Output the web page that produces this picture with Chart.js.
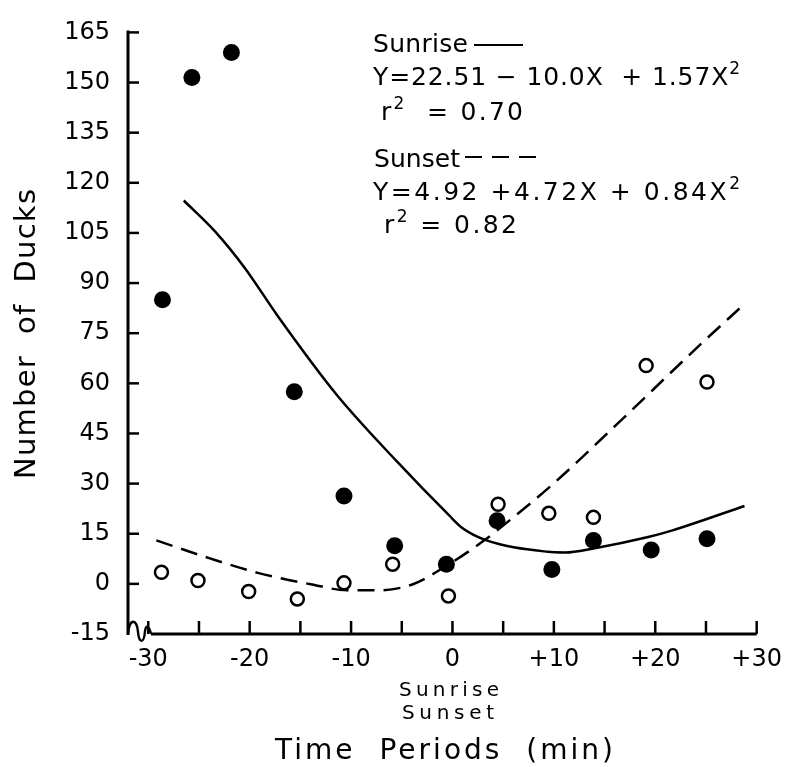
<!DOCTYPE html>
<html>
<head>
<meta charset="utf-8">
<script src="https://cdn.jsdelivr.net/npm/chart.js@4.4.1/dist/chart.umd.min.js"></script>
<style>
  body { margin: 0; background: #fff; }
  #wrap { width: 793px; height: 767px; position: relative; }
</style>
</head>
<body>
<div id="wrap"><canvas id="duckChart"></canvas></div>
<script>
// tick values
const xTickValues = [-30, -25, -20, -15, -10, -5, 0, 5, 10, 15, 20, 25, 30];
const yTickValues = [-15, 0, 15, 30, 45, 60, 75, 90, 105, 120, 135, 150, 165];

// observed counts, sunrise (filled) and sunset (open)
const sunriseTime  = [-28.6, -25.7, -21.8, -15.6, -10.7, -5.7, -0.6, 4.4, 9.8, 13.9, 19.6, 25.1];
const sunriseDucks = [85, 151.5, 159, 57.5, 26.3, 11.4, 5.9, 18.9, 4.3, 13, 10.1, 13.5];
const sunsetTime   = [-28.7, -25.1, -20.1, -15.3, -10.7, -5.9, -0.4, 4.5, 9.5, 13.9, 19.1, 25.1];
const sunsetDucks  = [3.5, 1, -2.3, -4.5, 0.3, 5.9, -3.6, 23.8, 21.1, 19.9, 65.3, 60.4];

// fitted curves
const sunriseFitTime = [-26.5, -23.4, -20.5, -17.2, -11.4, -5.6, -0.3, 0.9, 3.3, 9.4, 11.1, 13.9, 19.3, 21.7, 28.8];
const sunriseFitY    = [114.7, 105.4, 94.6, 80, 56.5, 37, 20.4, 16.9, 13.1, 9.6, 9.4, 10.6, 14, 16, 23.3];
const sunsetFitTime  = [-29.2, -24, -19.2, -14, -10.4, -7.2, -3.9, -0.7, 2.9, 6.2, 10, 16.2, 24.3, 28.7];
const sunsetFitY     = [13, 7.7, 3.3, -0.1, -1.9, -1.9, -0.1, 5.2, 12.5, 20.4, 30.1, 47.7, 71.2, 83.5];

const FONT = '"DejaVu Sans", sans-serif';
const pts = (xs, ys) => xs.map((x, i) => ({ x: x, y: ys[i] }));

// text stretched (letter spacing) so that it spans the given width
function drawFit(ctx, x, y, parts, size, width, centered) {
    const fontOf = p => (p.sup ? Math.round(size * 0.68) : size) + 'px ' + FONT;
    ctx.letterSpacing = '0px';
    let w = 0, n = 0;
    parts.forEach(p => {
        ctx.font = fontOf(p);
        w += ctx.measureText(p.t).width;
        n += p.t.length;
    });
    const sp = (width - w) / Math.max(n - 1, 1);
    let cx = centered ? x - width / 2 : x;
    ctx.textAlign = 'left';
    parts.forEach(p => {
        ctx.font = fontOf(p);
        ctx.letterSpacing = sp + 'px';
        ctx.fillText(p.t, cx, p.sup ? y - size * 0.45 : y);
        cx += ctx.measureText(p.t).width;
    });
    ctx.letterSpacing = '0px';
}

// axes, inward ticks, break mark and all the free text
const decor = {
    id: 'decor',
    afterDraw(chart) {
        const { ctx, chartArea: a, scales: { x, y } } = chart;
        ctx.save();
        ctx.strokeStyle = '#000';
        ctx.fillStyle = '#000';
        ctx.lineCap = 'butt';
        ctx.lineJoin = 'round';

        // y axis
        ctx.lineWidth = 3;
        ctx.beginPath();
        ctx.moveTo(a.left, a.top - 2);
        ctx.lineTo(a.left, a.bottom + 1);
        ctx.stroke();
        // x axis, starts after the break
        ctx.beginPath();
        ctx.moveTo(151, a.bottom);
        ctx.lineTo(a.right, a.bottom);
        ctx.stroke();
        // break squiggle
        ctx.lineWidth = 2.4;
        const b = a.bottom, l = a.left;
        ctx.beginPath();
        ctx.moveTo(l, b);
        ctx.bezierCurveTo(l + 1, b - 16, l + 9, b - 16, l + 10, b - 2);
        ctx.bezierCurveTo(l + 11, b + 10, l + 16, b + 10, l + 17, b - 3);
        ctx.bezierCurveTo(l + 18, b - 10, l + 21, b - 8, l + 23, b);
        ctx.stroke();

        // inward ticks
        ctx.lineWidth = 2.5;
        yTickValues.forEach(v => {
            if (v === -15) return;
            const py = y.getPixelForValue(v);
            ctx.beginPath();
            ctx.moveTo(a.left, py);
            ctx.lineTo(a.left + 11, py);
            ctx.stroke();
        });
        xTickValues.forEach(v => {
            const px = x.getPixelForValue(v);
            ctx.beginPath();
            ctx.moveTo(px, a.bottom);
            ctx.lineTo(px, a.bottom - 13);
            ctx.stroke();
        });

        // equations
        ctx.textBaseline = 'alphabetic';
        drawFit(ctx, 373, 52, [{ t: 'Sunrise' }], 25, 95);
        ctx.lineWidth = 2;
        ctx.beginPath();
        ctx.moveTo(474, 45);
        ctx.lineTo(523, 45);
        ctx.stroke();
        drawFit(ctx, 373, 85, [{ t: 'Y=22.51 − 10.0X  + 1.57X' }, { t: '2', sup: true }], 25, 367);
        drawFit(ctx, 381, 120, [{ t: 'r' }, { t: '2', sup: true }, { t: '  = 0.70' }], 25, 142);
        drawFit(ctx, 374, 167, [{ t: 'Sunset' }], 25, 86);
        [[465, 482], [492, 509], [519, 536]].forEach(d => {
            ctx.beginPath();
            ctx.moveTo(d[0], 157);
            ctx.lineTo(d[1], 157);
            ctx.stroke();
        });
        drawFit(ctx, 373, 200, [{ t: 'Y=4.92 +4.72X + 0.84X' }, { t: '2', sup: true }], 25, 367);
        drawFit(ctx, 384, 233, [{ t: 'r' }, { t: '2', sup: true }, { t: ' = 0.82' }], 25, 133);

        // axis titles
        drawFit(ctx, 449, 696, [{ t: 'Sunrise' }], 20, 100, true);
        drawFit(ctx, 448, 719, [{ t: 'Sunset' }], 20, 92, true);
        drawFit(ctx, 444, 759, [{ t: 'Time  Periods  (min)' }], 28, 338, true);
        ctx.translate(35, 334);
        ctx.rotate(-Math.PI / 2);
        drawFit(ctx, 0, 0, [{ t: 'Number  of  Ducks' }], 29, 290, true);
        ctx.restore();
    }
};

new Chart(document.getElementById('duckChart'), {
    type: 'scatter',
    data: {
        datasets: [
            {
                label: 'Sunrise fit',
                data: pts(sunriseFitTime, sunriseFitY),
                showLine: true,
                borderColor: '#000',
                borderWidth: 2.5,
                pointRadius: 0,
                tension: 0.4,
                cubicInterpolationMode: 'monotone'
            },
            {
                label: 'Sunset fit',
                data: pts(sunsetFitTime, sunsetFitY),
                showLine: true,
                borderColor: '#000',
                borderWidth: 2.5,
                borderDash: [17, 9],
                pointRadius: 0,
                tension: 0.4,
                cubicInterpolationMode: 'monotone'
            },
            {
                label: 'Sunrise',
                data: pts(sunriseTime, sunriseDucks),
                pointRadius: 8.5,
                pointBackgroundColor: '#000',
                pointBorderColor: '#000',
                pointBorderWidth: 0
            },
            {
                label: 'Sunset',
                data: pts(sunsetTime, sunsetDucks),
                pointRadius: 6.5,
                pointBackgroundColor: '#fff',
                pointBorderColor: '#000',
                pointBorderWidth: 2.5
            }
        ]
    },
    options: {
        responsive: true,
        maintainAspectRatio: false,
        animation: false,
        layout: { padding: { left: 0, right: 28, top: 20, bottom: 0 } },
        plugins: { legend: { display: false }, tooltip: { enabled: false } },
        scales: {
            x: {
                type: 'linear',
                min: -32,
                max: 30,
                afterFit: s => { s.height = 133; },
                afterBuildTicks: s => { s.ticks = xTickValues.map(v => ({ value: v })); },
                grid: { display: false, drawTicks: false },
                border: { display: false },
                ticks: {
                    padding: 11,
                    color: '#000',
                    font: { family: FONT, size: 24 },
                    maxRotation: 0,
                    autoSkip: false,
                    callback: v => (v % 10 === 0 ? (v > 0 ? '+' + v : String(v)) : '')
                }
            },
            y: {
                min: -15,
                max: 165,
                afterFit: s => { s.width = 128; },
                afterBuildTicks: s => { s.ticks = yTickValues.map(v => ({ value: v })); },
                grid: { display: false, drawTicks: false },
                border: { display: false },
                ticks: {
                    padding: 18,
                    color: '#000',
                    font: { family: FONT, size: 24 },
                    autoSkip: false
                }
            }
        }
    },
    plugins: [decor]
});
</script>
</body>
</html>
